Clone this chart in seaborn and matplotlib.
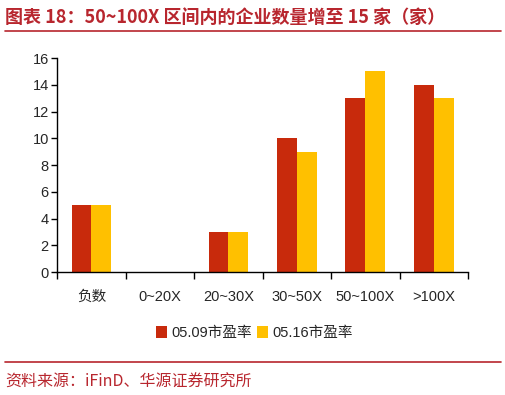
import pandas as pd
import matplotlib.pyplot as plt
import seaborn as sns
from matplotlib.lines import Line2D

# data
categories = ['负数', '0~20X', '20~30X', '30~50X', '50~100X', '>100X']
pe_0509 = [5, 0, 3, 10, 13, 14]
pe_0516 = [5, 0, 3, 9, 15, 13]
series_names = ['05.09市盈率', '05.16市盈率']

df = pd.DataFrame({
    'cat': categories * 2,
    'val': pe_0509 + pe_0516,
    'series': [series_names[0]] * 6 + [series_names[1]] * 6,
})

sns.set_style('white')
plt.rcParams['font.family'] = ['Liberation Sans', 'Noto Sans CJK SC', 'DejaVu Sans']

red = '#C82A0C'
yellow = '#FFC000'
deep = '#B8262E'

fig = plt.figure(figsize=(5.06, 3.95), dpi=100)
ax = fig.add_axes([0.113, 0.311, 0.812, 0.542])

sns.barplot(data=df, x='cat', y='val', hue='series', palette=[red, yellow],
            width=0.58, saturation=1, linewidth=0, ax=ax, legend=True)

ax.set_ylim(0, 16)
ax.set_yticks(range(0, 17, 2))
ax.set_xlim(-0.5, 5.5)
ax.set_xlabel('')
ax.set_ylabel('')

# ticks at category boundaries
ax.set_xticks([i - 0.5 for i in range(7)], minor=False)
ax.set_xticklabels([])
ax.set_xticks(range(6), minor=True)
ax.set_xticklabels(categories, minor=True, fontsize=10.5)
ax.tick_params(axis='x', which='minor', length=0, pad=13)
ax.tick_params(axis='x', which='major', direction='out', length=5, width=1, color='black', bottom=True)
ax.tick_params(axis='y', direction='out', length=4, width=1, color='black', left=True, labelsize=10.5, pad=2)

for s in ['top', 'right']:
    ax.spines[s].set_visible(False)
for s in ['left', 'bottom']:
    ax.spines[s].set_color('black')
    ax.spines[s].set_linewidth(1)

ax.legend(loc='upper center', bbox_to_anchor=(0.48, -0.19), ncol=2, frameon=False,
          fontsize=10.5, handlelength=0.75, handleheight=0.9, handletextpad=0.3, columnspacing=0.3)

# title, rules, source
fig.text(0.01, 0.955, '图表 18：50~100X 区间内的企业数量增至 15 家（家）', fontsize=13,
         fontweight='bold', color=deep, va='center', ha='left',
         family=['Noto Sans CJK SC', 'DejaVu Sans'])
fig.add_artist(Line2D([0.01, 0.99], [0.921, 0.921], color=deep, lw=1.2))
fig.add_artist(Line2D([0.01, 0.99], [0.083, 0.083], color=deep, lw=1.2))
fig.text(0.01, 0.033, '资料来源：iFinD、华源证券研究所', fontsize=11.5, color=deep,
         va='center', ha='left', family=['Noto Sans CJK SC', 'DejaVu Sans'])

fig.savefig('out.png', dpi=100)
